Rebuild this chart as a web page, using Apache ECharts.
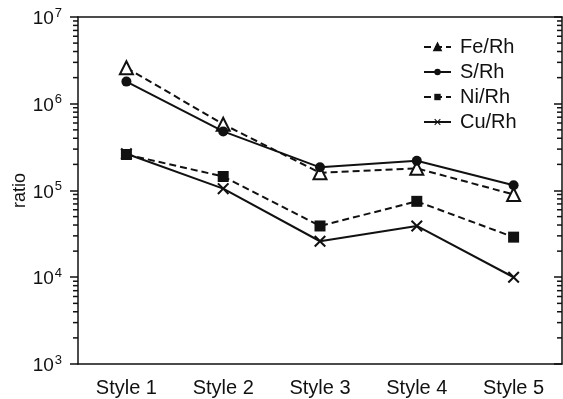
<!DOCTYPE html>
<html>
<head>
<meta charset="utf-8">
<script src="https://cdn.jsdelivr.net/npm/echarts@6/dist/echarts.min.js"></script>
<style>
  html, body { margin: 0; padding: 0; background: #fff; }
  #chart { width: 563px; height: 399px; }
</style>
</head>
<body>
<div id="chart"></div>
<script>
// Element ratios for each sample style
const categories = ['Style 1', 'Style 2', 'Style 3', 'Style 4', 'Style 5'];
const feRh = [2.6e6, 5.8e5, 1.6e5, 1.8e5, 9.0e4];
const sRh  = [1.8e6, 4.8e5, 1.85e5, 2.2e5, 1.15e5];
const niRh = [2.6e5, 1.45e5, 3.9e4, 7.5e4, 2.9e4];
const cuRh = [2.65e5, 1.05e5, 2.6e4, 3.9e4, 1.0e4];

const yMin = 1e3;
const yMax = 1e7;

// Minor tick values at 2..9 x 10^n between the major decades
const minorTickValues = [];
for (let e = 3; e < 7; e++) {
  for (let k = 2; k <= 9; k++) minorTickValues.push(k * Math.pow(10, e));
}

const ink = '#111';
const fontFamily = 'Liberation Sans, Arial, sans-serif';

const crossPath = 'path://M0,1.2L1.2,0L5,3.8L8.8,0L10,1.2L6.2,5L10,8.8L8.8,10L5,6.2L1.2,10L0,8.8L3.8,5Z';

const chart = echarts.init(document.getElementById('chart'), null, { renderer: 'canvas' });

function powLabel(value) {
  const e = Math.round(Math.log10(value));
  return '{b|10}{s|' + e + '}';
}

const option = {
  animation: false,
  backgroundColor: '#fff',
  textStyle: { fontFamily: fontFamily, color: ink },
  grid: { left: 78, right: 1, top: 17, bottom: 35, containLabel: false, outerBoundsMode: 'none' },
  legend: {
    orient: 'vertical',
    left: 423,
    top: 37,
    padding: 0,
    itemWidth: 27,
    itemHeight: 8,
    itemGap: 5,
    textStyle: { fontSize: 20, color: ink, fontFamily: fontFamily, lineHeight: 20, padding: [0, 0, 0, 4] },
    data: [
      { name: 'Fe/Rh', itemStyle: { color: ink } },
      { name: 'S/Rh' },
      { name: 'Ni/Rh' },
      { name: 'Cu/Rh' }
    ]
  },
  xAxis: [
    {
      type: 'category',
      data: categories,
      boundaryGap: true,
      axisLine: { lineStyle: { color: ink, width: 1.5 } },
      axisTick: { alignWithLabel: true, length: 7, lineStyle: { color: ink, width: 1.5 } },
      axisLabel: { fontSize: 20, color: ink, margin: 14, fontFamily: fontFamily }
    },
    {
      type: 'category',
      data: categories,
      position: 'top',
      axisLine: { lineStyle: { color: ink, width: 1.5 } },
      axisTick: { show: false },
      axisLabel: { show: false }
    }
  ],
  yAxis: [
    {
      type: 'log',
      logBase: 10,
      min: yMin,
      max: yMax,
      splitNumber: 4,
      name: 'ratio',
      nameLocation: 'middle',
      nameGap: 49,
      nameMoveOverlap: false,
      nameTextStyle: { fontSize: 18, color: ink, fontFamily: fontFamily },
      axisLine: { show: true, lineStyle: { color: ink, width: 1.5 } },
      axisTick: { show: true, length: 8, lineStyle: { color: ink, width: 1.5 } },
      splitLine: { show: false },
      axisLabel: {
        margin: 16,
        formatter: powLabel,
        rich: {
          b: { fontSize: 19, color: ink, fontFamily: fontFamily, padding: [4, 0, 0, 0] },
          s: { fontSize: 13, color: ink, fontFamily: fontFamily, padding: [0, 0, 8, 1] }
        }
      }
    },
    {
      type: 'log',
      logBase: 10,
      min: yMin,
      max: yMax,
      splitNumber: 4,
      position: 'right',
      axisLine: { show: true, lineStyle: { color: ink, width: 1.5 } },
      axisTick: { show: true, inside: true, length: 8, lineStyle: { color: ink, width: 1.5 } },
      splitLine: { show: false },
      axisLabel: { show: false }
    }
  ],
  series: [
    {
      name: 'Fe/Rh',
      type: 'line',
      data: feRh,
      symbol: 'triangle',
      symbolSize: 13,
      lineStyle: { color: ink, width: 2, type: [7, 4] },
      itemStyle: { color: '#fff', borderColor: ink, borderWidth: 2 },
      z: 3
    },
    {
      name: 'S/Rh',
      type: 'line',
      data: sRh,
      symbol: 'circle',
      symbolSize: 10,
      lineStyle: { color: ink, width: 2 },
      itemStyle: { color: ink },
      z: 4
    },
    {
      name: 'Ni/Rh',
      type: 'line',
      data: niRh,
      symbol: 'rect',
      symbolSize: 11,
      lineStyle: { color: ink, width: 2, type: [7, 4] },
      itemStyle: { color: ink },
      z: 4
    },
    {
      name: 'Cu/Rh',
      type: 'line',
      data: cuRh,
      symbol: crossPath,
      symbolSize: 12,
      lineStyle: { color: ink, width: 2 },
      itemStyle: { color: ink },
      z: 3
    },
    {
      // minor ticks on both vertical axes
      type: 'custom',
      silent: true,
      data: minorTickValues.map(v => [0, v]),
      encode: { x: 0, y: 1 },
      renderItem: function (params, api) {
        const pt = api.coord([api.value(0), api.value(1)]);
        const cs = params.coordSys;
        const left = cs.x;
        const right = cs.x + cs.width;
        const style = { stroke: ink, lineWidth: 1.5 };
        return {
          type: 'group',
          children: [
            { type: 'line', shape: { x1: left - 5, y1: pt[1], x2: left, y2: pt[1] }, style: style },
            { type: 'line', shape: { x1: right - 5, y1: pt[1], x2: right, y2: pt[1] }, style: style }
          ]
        };
      },
      z: 2
    }
  ]
};

chart.setOption(option);
</script>
</body>
</html>
